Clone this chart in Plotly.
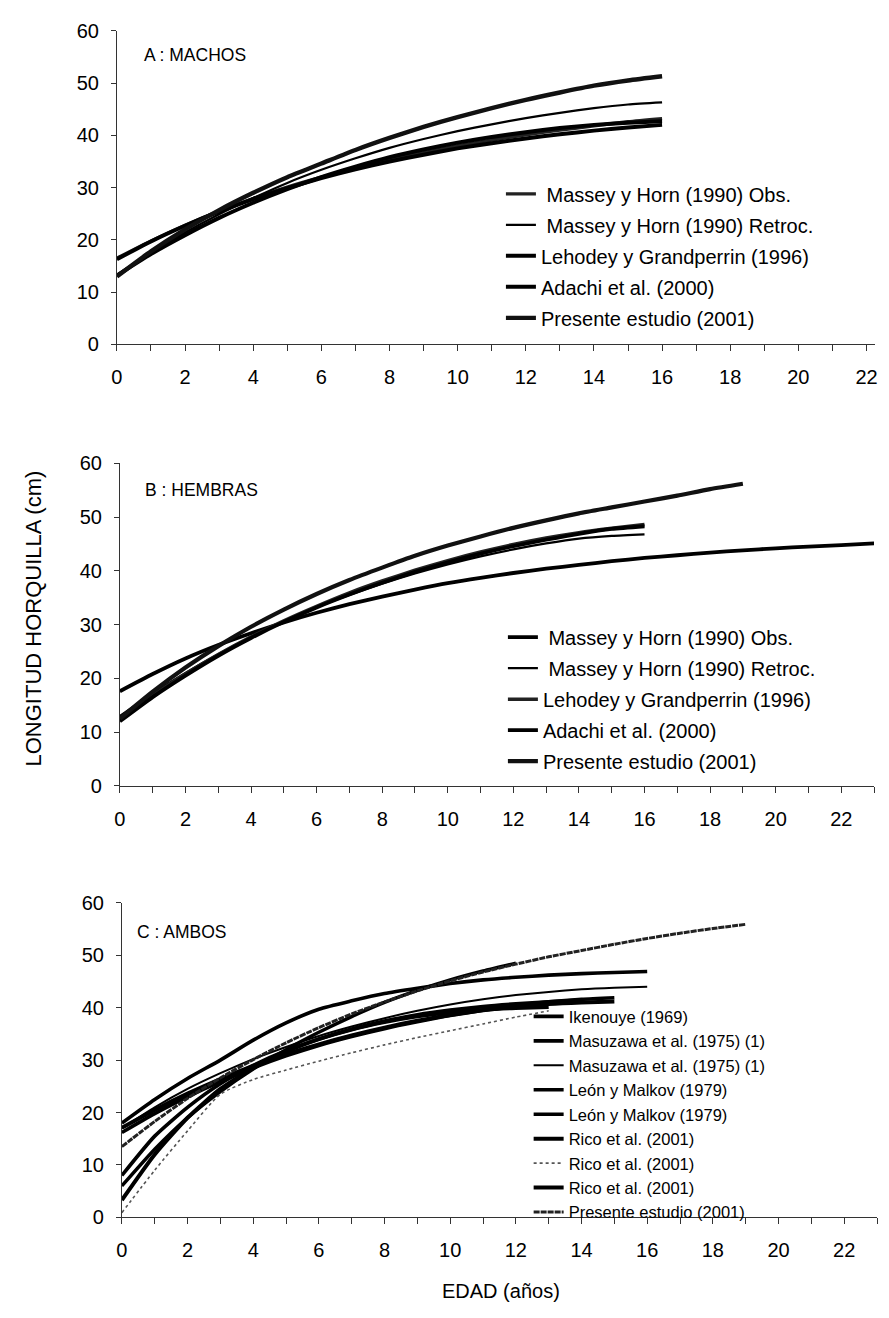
import plotly.graph_objects as go

# ---------------- data ----------------
# Panel A : MACHOS
a_age = list(range(0, 17))
a_obs = [16.5, 19.8, 22.8, 25.5, 27.9, 30.1, 32.0, 33.7, 35.3, 36.7, 38.0, 39.1, 40.1, 41.0, 41.8, 42.6, 43.2]
a_retroc = [13.3, 17.5, 21.4, 24.9, 28.0, 30.9, 33.4, 35.6, 37.6, 39.3, 40.8, 42.1, 43.3, 44.3, 45.2, 45.9, 46.3]
a_lehodey = [16.3, 19.7, 22.7, 25.4, 27.8, 29.9, 31.8, 33.5, 35.0, 36.3, 37.5, 38.5, 39.4, 40.2, 40.9, 41.5, 42.0]
a_adachi = [13.2, 17.3, 20.9, 24.2, 27.1, 29.7, 32.0, 34.0, 35.8, 37.3, 38.6, 39.7, 40.6, 41.4, 42.0, 42.4, 42.7]
a_presente = [13.0, 17.8, 22.0, 25.7, 29.0, 32.0, 34.6, 37.2, 39.5, 41.6, 43.5, 45.2, 46.8, 48.2, 49.5, 50.5, 51.3]

# Panel B : HEMBRAS
b_age_obs = list(range(0, 24))
b_obs = [17.6, 20.8, 23.7, 26.2, 28.4, 30.4, 32.2, 33.8, 35.2, 36.5, 37.7, 38.7, 39.6, 40.4,
         41.1, 41.8, 42.4, 42.9, 43.4, 43.8, 44.2, 44.5, 44.8, 45.1]
b_age16 = list(range(0, 17))
b_retroc = [13.0, 17.2, 21.0, 24.5, 27.7, 30.6, 33.2, 35.5, 37.6, 39.5, 41.2, 42.7, 44.0, 45.1, 46.0, 46.5, 46.8]
b_lehodey = [12.5, 16.8, 20.8, 24.4, 27.7, 30.7, 33.4, 35.9, 38.1, 40.1, 41.9, 43.5, 44.9, 46.1, 47.1, 47.9, 48.6]
b_adachi = [12.0, 16.5, 20.5, 24.2, 27.5, 30.5, 33.2, 35.6, 37.8, 39.8, 41.6, 43.2, 44.6, 45.8, 46.9, 47.8, 48.3]
b_age19 = list(range(0, 20))
b_presente = [12.5, 17.5, 22.0, 26.0, 29.6, 32.8, 35.7, 38.3, 40.6, 42.8, 44.7, 46.4, 48.0, 49.4,
              50.7, 51.8, 52.9, 54.0, 55.2, 56.2]

# Panel C : AMBOS
c_ikenouye_age = list(range(0, 16))
c_ikenouye = [16.2, 19.8, 23.0, 25.9, 28.5, 30.8, 32.8, 34.5, 36.0, 37.3, 38.5, 39.5, 40.4, 41.1, 41.6, 41.9]
c_masu1_age = list(range(0, 17))
c_masu1 = [18.0, 22.5, 26.5, 30.0, 33.8, 37.1, 39.7, 41.3, 42.7, 43.7, 44.6, 45.3, 45.8, 46.2, 46.5, 46.7, 46.9]
c_masu2_age = list(range(0, 17))
c_masu2 = [17.0, 21.0, 24.5, 27.5, 30.2, 32.5, 34.6, 36.4, 38.0, 39.4, 40.6, 41.6, 42.4, 43.0, 43.5, 43.8, 44.0]
c_leon1_age = list(range(0, 13))
c_leon1 = [6.0, 13.0, 19.0, 24.0, 28.3, 32.0, 35.3, 38.3, 41.0, 43.3, 45.3, 47.0, 48.5]
c_leon2_age = list(range(0, 14))
c_leon2 = [8.0, 15.5, 21.0, 25.5, 29.0, 31.8, 34.0, 35.8, 37.2, 38.3, 39.1, 39.6, 39.9, 40.1]
c_rico1_age = list(range(0, 15))
c_rico1 = [3.3, 12.0, 19.0, 24.5, 28.5, 31.6, 34.0, 35.9, 37.4, 38.6, 39.5, 40.2, 40.7, 41.1, 41.4]
c_rico2_age = list(range(0, 14))
c_rico2 = [0.9, 9.0, 16.5, 23.5, 26.3, 28.1, 29.8, 31.4, 32.9, 34.3, 35.6, 36.9, 38.2, 39.4]
c_rico3_age = list(range(0, 16))
c_rico3 = [17.1, 20.5, 23.6, 26.4, 28.9, 31.1, 33.0, 34.7, 36.2, 37.5, 38.6, 39.5, 40.2, 40.7, 41.0, 41.2]
c_presente_age = list(range(0, 20))
c_presente = [13.5, 18.3, 22.7, 26.6, 30.1, 33.3, 36.2, 38.8, 41.1, 43.2, 45.1, 46.8, 48.3, 49.7,
              50.9, 52.1, 53.2, 54.2, 55.1, 55.9]

panel_titles = ["A : MACHOS", "B : HEMBRAS", "C : AMBOS"]

# the page is 889x1318 and the browser keeps its 8px body margin round the plot,
# so the figure is sized to fill exactly what is left
PAGE_W, PAGE_H, PAD = 889, 1318, 8
W, H = PAGE_W - 2 * PAD, PAGE_H - 2 * PAD
FONT = "Liberation Sans, Arial, sans-serif"

fig = go.Figure()


def add(x, y, name, axis, legend, width=3.5, color="black", dash="solid", group=None):
    fig.add_trace(go.Scatter(
        x=x, y=y, mode="lines", name=name,
        xaxis="x" + axis, yaxis="y" + axis,
        legend=legend, legendgroup=group or name,
        line=dict(color=color, width=width, dash=dash, shape="spline", smoothing=0.6),
        hoverinfo="skip",
    ))


# panel A
add(a_age, a_obs, " Massey y Horn (1990) Obs.", "", "legend", width=3.4, color="#222", group="a1")
add(a_age, a_retroc, " Massey y Horn (1990) Retroc.", "", "legend", width=2.2, group="a2")
add(a_age, a_lehodey, "Lehodey y Grandperrin (1996)", "", "legend", width=4.0, group="a3")
add(a_age, a_adachi, "Adachi et al. (2000)", "", "legend", width=4.0, group="a4")
add(a_age, a_presente, "Presente estudio (2001)", "", "legend", width=4.4, color="#111", group="a5")

# panel B
add(b_age_obs, b_obs, " Massey y Horn (1990) Obs.", "2", "legend2", width=3.8, group="b1")
add(b_age16, b_retroc, " Massey y Horn (1990) Retroc.", "2", "legend2", width=2.2, group="b2")
add(b_age16, b_lehodey, "Lehodey y Grandperrin (1996)", "2", "legend2", width=3.6, color="#222", group="b3")
add(b_age16, b_adachi, "Adachi et al. (2000)", "2", "legend2", width=3.8, group="b4")
add(b_age19, b_presente, "Presente estudio (2001)", "2", "legend2", width=4.2, color="#111", group="b5")

# panel C
add(c_ikenouye_age, c_ikenouye, "Ikenouye (1969)", "3", "legend3", width=3.6)
add(c_masu1_age, c_masu1, "Masuzawa et al. (1975) (1)", "3", "legend3", width=3.6)
add(c_masu2_age, c_masu2, "Masuzawa et al. (1975) (1) ", "3", "legend3", width=2.0)
add(c_leon1_age, c_leon1, "León y Malkov (1979)", "3", "legend3", width=3.4)
add(c_leon2_age, c_leon2, "León y Malkov (1979) ", "3", "legend3", width=3.6)
add(c_rico1_age, c_rico1, "Rico et al. (2001)", "3", "legend3", width=4.0)
add(c_rico2_age, c_rico2, "Rico et al. (2001) ", "3", "legend3", width=1.6, color="#555", dash="dot")
add(c_rico3_age, c_rico3, "Rico et al. (2001)  ", "3", "legend3", width=4.0)
add(c_presente_age, c_presente, "Presente estudio (2001)", "3", "legend3", width=3.0, color="#222", dash="6px,1px")


def px_x(v):
    # page pixel -> paper fraction
    return (v - PAD) / W


def px_y(v):
    return 1 - (v - PAD) / H


# plot areas in page pixels: (left, right, top, bottom, xmax)
areas = [(112, 878, 20, 339, 22.25), (115, 877, 460, 788, 23), (117, 880, 907, 1227, 23)]

axis_font = dict(family=FONT, size=20, color="black")
layout = dict(
    width=W, height=H,
    margin=dict(l=0, r=0, t=0, b=0),
    plot_bgcolor="white", paper_bgcolor="white",
    font=dict(family=FONT, color="black"),
    showlegend=True,
)
for i, (l, r, t, b, xmax) in enumerate(areas):
    suf = "" if i == 0 else str(i + 1)
    layout["xaxis" + suf] = dict(
        domain=[px_x(l), px_x(r)], anchor="y" + suf, range=[0, xmax],
        dtick=2, tick0=0, ticks="outside", ticklen=6, tickwidth=1, tickcolor="#333",
        minor=dict(dtick=1, ticks="outside", ticklen=6, tickwidth=1, tickcolor="#333"),
        showline=True, linecolor="#333", linewidth=1,
        showgrid=False, zeroline=False, tickfont=axis_font, ticklabelstandoff=9,
    )
    layout["yaxis" + suf] = dict(
        domain=[px_y(b), px_y(t)], anchor="x" + suf, range=[0, 60],
        dtick=10, ticks="outside", ticklen=5, tickwidth=1, tickcolor="#333",
        showline=True, linecolor="#333", linewidth=1,
        showgrid=False, zeroline=False, tickfont=axis_font, ticklabelstandoff=8,
    )

leg_common = dict(bgcolor="rgba(0,0,0,0)", borderwidth=0, xanchor="left", yanchor="top",
                  font=dict(family=FONT, size=20, color="black"), itemclick=False)
layout["legend"] = dict(leg_common, x=px_x(500), y=px_y(166), tracegroupgap=2)
layout["legend2"] = dict(leg_common, x=px_x(502), y=px_y(617), tracegroupgap=2)
layout["legend3"] = dict(leg_common, x=px_x(528), y=px_y(1005), tracegroupgap=0,
                         font=dict(family=FONT, size=16.5, color="black"))
fig.update_layout(**layout)

label_pos = [(137, 45), (138, 487), (130, 937)]
for txt, (x, y) in zip(panel_titles, label_pos):
    fig.add_annotation(text=txt, x=px_x(x), y=px_y(y), xref="paper", yref="paper",
                       xanchor="left", yanchor="middle", showarrow=False,
                       font=dict(family=FONT, size=17.5, color="black"))

fig.add_annotation(text="LONGITUD HORQUILLA (cm)", textangle=-90, x=px_x(28), y=px_y(618),
                   xref="paper", yref="paper", xanchor="center", yanchor="middle",
                   showarrow=False, font=dict(family=FONT, size=22, color="black"))
fig.add_annotation(text="EDAD (años)", x=px_x(500), y=px_y(1302), xref="paper", yref="paper",
                   xanchor="center", yanchor="middle", showarrow=False,
                   font=dict(family=FONT, size=20, color="black"))

fig.write_html("out.html", config={"displayModeBar": False})
